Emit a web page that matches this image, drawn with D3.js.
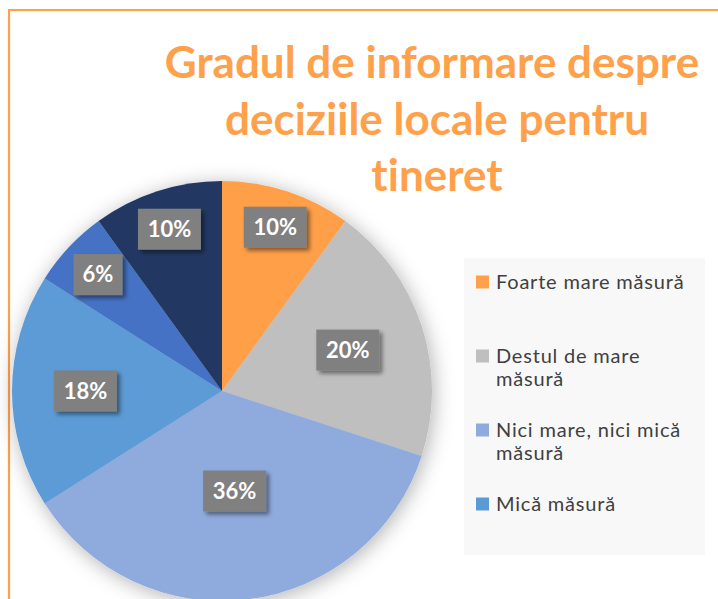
<!DOCTYPE html>
<html>
<head>
<meta charset="utf-8">
<script src="https://cdn.jsdelivr.net/npm/d3@7"></script>
<style>
  body { margin: 0; background: #fff; }
  svg { display: block; }
  text { font-variant-ligatures: none; }
</style>
</head>
<body>
<div id="chart"></div>
<script>
// Data
const categories = ["Foarte mare măsură", "Destul de mare măsură", "Nici mare, nici mică măsură",
                    "Mică măsură", "Foarte mică măsură", "Deloc"];
const values = [10, 20, 36, 18, 6, 10];
const colors = ["#FFA04A", "#BFBFBF", "#8FAADC", "#5B9BD5", "#4472C4", "#203864"];
const titleLines = ["Gradul de informare despre", "deciziile locale pentru", "tineret"];
const legendShown = 4; // the legend box only has room for the first four entries

// label distance from centre, as a share of the radius (Excel "best fit")
const labelRadius = [0.82, 0.63, 0.48, 0.65, 0.81, 0.81];

const width = 718;
const height = 599;
const cx = 222, cy = 391, R = 210;

const svg = d3.select("#chart")
    .append("svg")
    .attr("width", width)
    .attr("height", height);

const defs = svg.append("defs");
const glow = defs.append("filter").attr("id", "pieShadow")
    .attr("x", "-20%").attr("y", "-20%").attr("width", "140%").attr("height", "140%");
glow.append("feDropShadow")
    .attr("dx", 2).attr("dy", 3).attr("stdDeviation", 10)
    .attr("flood-color", "#000").attr("flood-opacity", 0.3);

const boxShadow = defs.append("filter").attr("id", "boxShadow")
    .attr("x", "-30%").attr("y", "-30%").attr("width", "170%").attr("height", "170%");
boxShadow.append("feDropShadow")
    .attr("dx", 3).attr("dy", 3).attr("stdDeviation", 2)
    .attr("flood-color", "#000").attr("flood-opacity", 0.45);

// orange frame (only top and left edges are inside the picture)
svg.append("path")
    .attr("d", `M9,${height + 5} L9,10 L${width + 5},10`)
    .attr("fill", "none")
    .attr("stroke", "#FFA04A")
    .attr("stroke-width", 2.2);

// Title
svg.append("text")
    .attr("y", 78)
    .attr("text-anchor", "middle")
    .style("font-family", "Lato, 'Open Sans', sans-serif")
    .style("font-weight", "bold")
    .style("font-size", "44px")
    .style("fill", "#FFA04A")
    .selectAll("tspan")
    .data(titleLines)
    .enter()
    .append("tspan")
    .attr("x", (d, i) => i === 0 ? 432 : 437)
    .attr("dy", (d, i) => i === 0 ? 0 : 56.5)
    .text(d => d);

// Legend
const legend = svg.append("g");
legend.append("rect")
    .attr("x", 464).attr("y", 258)
    .attr("width", 241).attr("height", 297)
    .attr("fill", "#F8F8F8");

const legendLines = [["Foarte mare măsură"], ["Destul de mare", "măsură"],
                     ["Nici mare, nici mică", "măsură"], ["Mică măsură"]];
const legendY = d3.scalePoint()
    .domain(categories.slice(0, legendShown))
    .range([282, 504]);

const items = legend.selectAll(".item")
    .data(categories.slice(0, legendShown))
    .enter()
    .append("g")
    .attr("class", "item")
    .attr("transform", d => `translate(476, ${legendY(d)})`);

items.append("rect")
    .attr("x", 0).attr("y", -6.5)
    .attr("width", 13).attr("height", 13)
    .attr("fill", (d, i) => colors[i]);

items.append("text")
    .attr("x", 20)
    .attr("y", 0)
    .style("font-family", "Lato, 'Open Sans', sans-serif")
    .style("font-size", "20px")
    .style("letter-spacing", "0.8px")
    .style("fill", "#404040")
    .selectAll("tspan")
    .data((d, i) => legendLines[i])
    .enter()
    .append("tspan")
    .attr("x", 20)
    .attr("dy", (d, i) => i === 0 ? "0.35em" : "23px")
    .text(d => d);

// Pie
const pie = d3.pie().sort(null).value(d => d);
const arc = d3.arc().innerRadius(0).outerRadius(R);
const arcs = pie(values);

const g = svg.append("g").attr("transform", `translate(${cx},${cy})`);

g.append("g")
    .attr("filter", "url(#pieShadow)")
    .selectAll("path")
    .data(arcs)
    .enter()
    .append("path")
    .attr("d", arc)
    .attr("fill", (d, i) => colors[i]);

const labels = g.selectAll(".lbl")
    .data(arcs)
    .enter()
    .append("g")
    .attr("class", "lbl")
    .attr("transform", (d, i) => {
        const r = labelRadius[i] * R;
        const c = d3.arc().innerRadius(r).outerRadius(r).centroid(d);
        return `translate(${c[0]},${c[1]})`;
    });

labels.append("rect")
    .attr("x", d => d.data < 10 ? -24.5 : -31.5)
    .attr("y", -20.5)
    .attr("width", d => d.data < 10 ? 49 : 63)
    .attr("height", 41)
    .attr("fill", "#808080")
    .attr("filter", "url(#boxShadow)");

labels.append("text")
    .attr("text-anchor", "middle")
    .attr("dy", "0.36em")
    .style("font-family", "Lato, 'Open Sans', sans-serif")
    .style("font-weight", "bold")
    .style("font-size", "22px")
    .style("fill", "#fff")
    .text(d => d.data + "%");
</script>
</body>
</html>
